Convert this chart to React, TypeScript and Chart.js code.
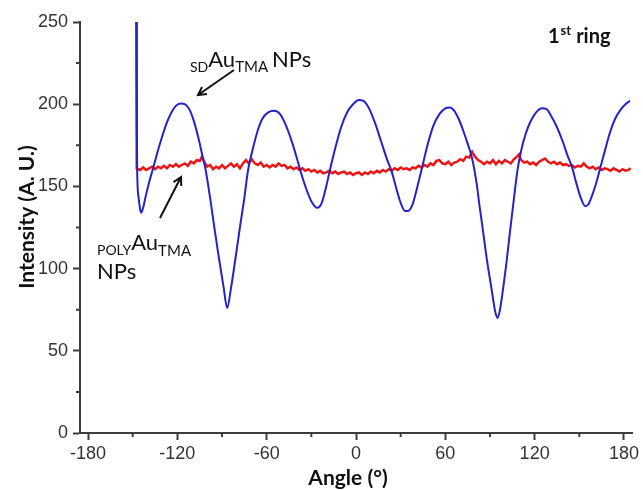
import React, { useEffect, useRef } from "react";
import { Chart, registerables } from "chart.js";

Chart.register(...registerables);

const xTicks = [-180, -120, -60, 0, 60, 120, 180];
const xMinorTicks = [-150, -90, -30, 30, 90, 150];
const yTicks = [0, 50, 100, 150, 200, 250];
const yMinorTicks = [25, 75, 125, 175, 225];

const blueAngles = [
  -147.5, -147.3, -147, -146, -145, -144.3, -143, -141, -138.5, -136, -133, -130, -127, -124, -121, -118, -115, -112, -109, -106,
  -103.5, -101, -98, -95, -92, -89, -86.5, -84, -81, -78, -75, -72.5, -69, -66, -63, -59, -55, -51, -47, -43,
  -40, -37.5, -34, -30, -26, -23, -20, -17.5, -14, -10, -6, -2, 2, 5, 9, 13, 17, 21, 24, 27,
  30, 33, 35, 38, 41, 44, 48, 52, 56, 60, 63, 66, 69, 72, 75, 78, 81, 83, 85.3, 88,
  91, 93.5, 95, 96.5, 99, 101, 103.5, 106, 108.5, 111, 114, 117, 121, 125, 128, 131, 135, 139, 142, 145,
  148, 151, 154, 156, 158, 161, 164, 167, 170, 174, 178, 181, 184,
];
const blueValues = [
  250, 200, 160, 143, 136, 134, 137, 145, 154, 162, 172, 181, 189, 195, 199, 200.5, 200, 197, 190, 180,
  170, 160, 143, 124, 106, 89, 76, 88, 106, 125, 143, 160, 174, 184, 191, 195, 196, 194, 187, 177,
  168, 160, 150, 141, 137, 140, 150, 160, 173, 186, 195, 200, 202.5, 202, 197, 188, 177, 166, 159, 149,
  140, 135, 135, 139, 149, 160, 175, 187, 194, 197.5, 198, 196, 191, 184, 176, 167, 152, 138, 123, 105,
  88, 74, 70, 74, 89, 103, 123, 142, 160, 172, 182, 189, 195, 197.5, 197, 193, 186, 177, 169, 162,
  152, 143, 138, 139, 143, 151, 161, 171, 181, 191, 197, 200, 202,
];

const redAngles = [
  -147.5, -147.3, -145, -143, -141, -139, -137, -135, -133, -131, -129, -127, -125, -123, -121, -119, -117, -115, -113, -111,
  -109, -107, -105, -103.5, -102, -100, -98, -96, -94, -92, -90, -88, -86, -84, -82, -80, -78, -76, -74, -72,
  -70, -68, -66, -64, -62, -60, -58, -56, -54, -52, -50, -48, -46, -44, -42, -40, -38, -36, -34, -32,
  -30, -28, -26, -24, -22, -20, -18, -16, -14, -12, -10, -8, -6, -4, -2, 0, 2, 4, 6, 8,
  10, 12, 14, 16, 18, 20, 22, 24, 26, 28, 30, 32, 34, 36, 38, 40, 42, 44, 46, 48,
  50, 52, 54, 56, 58, 60, 62, 64, 66, 68, 70, 72, 74, 76, 78, 80, 82, 84, 86, 88,
  90, 92, 94, 96, 98, 100, 102, 104, 106, 108, 109.5, 111, 113, 115, 117, 119, 121, 123, 125, 127,
  129, 131, 133, 135, 137, 139, 141, 143, 145, 147, 149, 151, 153, 155, 157, 159, 161, 163, 165, 167,
  169, 171, 173, 175, 177, 179, 181, 183, 184.5,
];
const redValues = [
  250, 161, 160, 161.5, 160, 161, 162, 160.5, 162, 161, 162.5, 161, 163, 162, 163.5, 162, 163, 164, 162.5, 165,
  164, 166, 165.5, 168, 165, 162, 163, 160.5, 162, 161, 163, 161, 162.5, 164, 162, 163.5, 161, 164, 166, 164,
  166.5, 164, 163, 164.5, 162, 163, 161.5, 163, 162, 164, 162.5, 163, 161, 162, 160.5, 161.5, 160, 161, 159.5, 160.5,
  159, 160, 158.5, 159.5, 158, 158.5, 159.5, 158, 159, 157.5, 158.5, 159, 157.5, 158.5, 157, 158, 158.5, 157, 158.5, 157.5,
  159, 158, 159.5, 158.5, 160, 159, 160.5, 159.5, 161, 160, 161.5, 160.5, 161, 160, 161.5, 161, 162.5, 161.5, 163, 162,
  164, 163, 165.5, 166, 164, 163.5, 165, 163, 164.5, 165, 166.5, 165.5, 168, 167.5, 171, 168, 166, 165, 163.5, 165,
  164, 166, 163.5, 165.5, 164, 166, 165, 164, 166.5, 168, 169.5, 166, 164.5, 165, 163.5, 164.5, 163, 165, 166, 167,
  165, 164, 165, 163.5, 164.5, 163, 163.5, 162.5, 163, 161.5, 162.5, 162, 164, 162, 161, 162, 160.5, 161.5, 160, 161,
  160.5, 159.5, 161, 160, 159, 160.5, 159.5, 160, 161,
];

const AXIS_COLOR = "#3c3c3c";
const TEXT_FONT = "Lato, 'Open Sans', sans-serif";

function arrow(ctx: CanvasRenderingContext2D, x1: number, y1: number, x2: number, y2: number) {
  const a = Math.atan2(y2 - y1, x2 - x1);
  const h = 9;
  ctx.beginPath();
  ctx.moveTo(x1, y1);
  ctx.lineTo(x2, y2);
  ctx.moveTo(x2 - h * Math.cos(a - 0.5), y2 - h * Math.sin(a - 0.5));
  ctx.lineTo(x2, y2);
  ctx.lineTo(x2 - h * Math.cos(a + 0.5), y2 - h * Math.sin(a + 0.5));
  ctx.stroke();
}

const decorPlugin = {
  id: "decor",
  afterDraw(chart: any) {
    const ctx = chart.ctx as CanvasRenderingContext2D;
    const xs = chart.scales.x;
    const ys = chart.scales.y;
    ctx.save();
    // minor ticks
    ctx.strokeStyle = AXIS_COLOR;
    ctx.lineWidth = 2;
    ctx.beginPath();
    xMinorTicks.forEach((v) => {
      const px = xs.getPixelForValue(v);
      ctx.moveTo(px, ys.bottom);
      ctx.lineTo(px, ys.bottom + 4);
    });
    yMinorTicks.forEach((v) => {
      const py = ys.getPixelForValue(v);
      ctx.moveTo(xs.left, py);
      ctx.lineTo(xs.left - 4, py);
    });
    ctx.stroke();

    ctx.fillStyle = "#111";
    ctx.textAlign = "left";
    ctx.textBaseline = "alphabetic";

    // axis titles
    ctx.font = `bold 21px ${TEXT_FONT}`;
    ctx.textAlign = "center";
    ctx.fillText("Angle (°)", 348, 485);
    ctx.save();
    ctx.translate(34, 217);
    ctx.rotate(-Math.PI / 2);
    ctx.fillText("Intensity (A. U.)", 0, 0);
    ctx.restore();

    ctx.textAlign = "left";
    // SD Au TMA NPs
    let x = 190;
    ctx.font = `14px ${TEXT_FONT}`;
    ctx.fillText("SD", x, 72);
    x += ctx.measureText("SD").width;
    ctx.font = `22px ${TEXT_FONT}`;
    ctx.fillText("Au", x, 67);
    x += ctx.measureText("Au").width;
    ctx.font = `15px ${TEXT_FONT}`;
    ctx.fillText("TMA", x, 72);
    x += ctx.measureText("TMA").width + 4;
    ctx.font = `22px ${TEXT_FONT}`;
    ctx.fillText("NPs", x, 67);

    // POLY Au TMA / NPs
    x = 97;
    ctx.font = `14px ${TEXT_FONT}`;
    ctx.fillText("POLY", x, 255);
    x += ctx.measureText("POLY").width;
    ctx.font = `22px ${TEXT_FONT}`;
    ctx.fillText("Au", x, 250);
    x += ctx.measureText("Au").width;
    ctx.font = `15px ${TEXT_FONT}`;
    ctx.fillText("TMA", x, 256);
    ctx.font = `22px ${TEXT_FONT}`;
    ctx.fillText("NPs", 97, 279);

    // 1st ring
    x = 548;
    ctx.font = `bold 20px ${TEXT_FONT}`;
    ctx.fillText("1", x, 43);
    x += ctx.measureText("1").width + 1;
    ctx.font = `bold 13px ${TEXT_FONT}`;
    ctx.fillText("st", x, 35);
    x += ctx.measureText("st").width + 5;
    ctx.font = `bold 20px ${TEXT_FONT}`;
    ctx.fillText("ring", x, 43);

    // arrows
    ctx.strokeStyle = "#111";
    ctx.lineWidth = 2;
    arrow(ctx, 234, 70, 198, 95);
    arrow(ctx, 160, 218, 181, 177);
    ctx.restore();
  },
};

export default function App() {
  const ref = useRef<HTMLCanvasElement | null>(null);
  useEffect(() => {
    if (!ref.current) return;
    const blue = blueAngles.map((a, i) => ({ x: a, y: blueValues[i] }));
    const red = redAngles.map((a, i) => ({ x: a, y: redValues[i] }));
    const chart = new Chart(ref.current, {
      type: "line",
      data: {
        datasets: [
          {
            label: "SD",
            data: blue,
            borderColor: "#2323cc",
            borderWidth: 2,
            pointRadius: 0,
            cubicInterpolationMode: "monotone",
            order: 1,
          },
          {
            label: "POLY",
            data: red,
            borderColor: "#ee1414",
            borderWidth: 2.5,
            pointRadius: 0,
            tension: 0,
            order: 2,
          },
        ],
      },
      options: {
        animation: false,
        responsive: true,
        maintainAspectRatio: false,
        layout: { padding: { top: 22, right: 11, left: 0, bottom: 0 } },
        plugins: { legend: { display: false }, tooltip: { enabled: false } },
        scales: {
          x: {
            type: "linear",
            min: -185.4,
            max: 185.4,
            afterBuildTicks: (s: any) => {
              s.ticks = xTicks.map((v) => ({ value: v }));
            },
            afterFit: (s: any) => {
              s.height = 57;
            },
            grid: { display: true, drawOnChartArea: false, drawTicks: true, tickLength: 7, tickColor: AXIS_COLOR, tickWidth: 2 },
            border: { display: true, color: AXIS_COLOR, width: 2 },
            ticks: {
              color: "#333",
              font: { family: "'Liberation Sans', Arial, sans-serif", size: 18 },
              padding: 3,
              maxRotation: 0,
            },
          },
          y: {
            type: "linear",
            min: 0,
            max: 250,
            afterBuildTicks: (s: any) => {
              s.ticks = yTicks.map((v) => ({ value: v }));
            },
            afterFit: (s: any) => {
              s.width = 80;
            },
            grid: { display: true, drawOnChartArea: false, drawTicks: true, tickLength: 7, tickColor: AXIS_COLOR, tickWidth: 2 },
            border: { display: true, color: AXIS_COLOR, width: 2 },
            ticks: {
              color: "#333",
              font: { family: "'Liberation Sans', Arial, sans-serif", size: 18 },
              padding: 5,
            },
          },
        },
      },
      plugins: [decorPlugin],
    } as any);
    return () => chart.destroy();
  }, []);
  return (
    <div style={{ position: "absolute", left: 0, top: 0, width: 643, height: 490, background: "#fff" }}>
      <canvas ref={ref} />
    </div>
  );
}
